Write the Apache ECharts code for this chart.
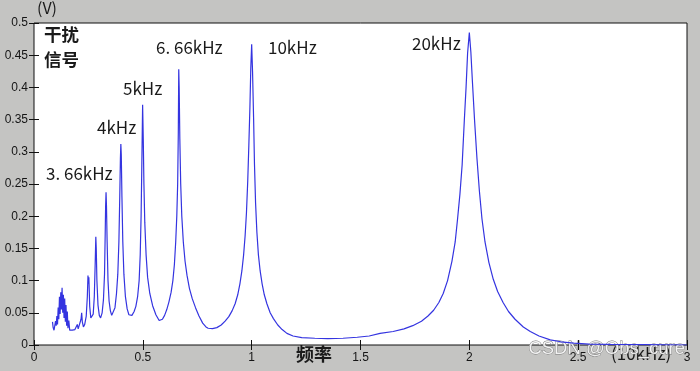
<!DOCTYPE html>
<html>
<head>
<meta charset="utf-8">
<script src="https://cdn.jsdelivr.net/npm/echarts@6/dist/echarts.min.js"></script>
<style>
html,body{margin:0;padding:0;background:#c4c4c2;}
#chart{width:700px;height:371px;}
</style>
</head>
<body>
<div id="chart"></div>
<script>
// frequency (x 10kHz)
const freq = [
0.085,0.088,0.092,0.096,0.099,0.102,0.105,0.108,0.111,0.114,0.117,0.120,0.123,0.126,0.129,0.132,0.135,0.138,0.141,0.144,
0.147,0.150,0.153,0.156,0.160,0.164,0.170,0.176,0.182,0.188,0.194,0.199,0.203,0.210,0.216,0.219,0.222,0.227,0.233,0.240,
0.245,0.248,0.250,0.252,0.256,0.261,
0.266,0.272,0.277,0.281,0.284,0.286,0.289,0.294,0.300,
0.306,0.313,0.319,0.324,0.327,0.329,0.331,0.333,0.336,0.340,0.345,0.351,
0.357,0.365,0.372,0.379,0.385,0.390,0.394,0.397,0.399,0.401,0.404,0.408,0.413,0.420,0.428,0.436,
0.440,0.450,0.460,0.468,0.476,0.483,0.488,0.492,0.495,0.499,0.502,0.505,0.509,0.515,0.522,0.532,0.545,0.560,
0.575,0.590,0.600,0.610,0.620,0.630,0.638,0.645,0.651,0.656,0.660,0.663,0.665,0.667,0.670,0.674,0.679,0.686,0.694,0.703,0.714,0.727,0.742,0.758,0.775,0.790,
0.800,0.820,0.840,0.860,0.878,0.895,0.910,0.924,0.936,0.946,0.955,0.963,0.970,0.976,0.982,0.987,0.992,0.996,1.000,
1.004,1.009,1.013,1.018,1.024,1.031,1.039,1.048,1.058,1.070,1.085,1.100,1.120,1.140,1.162,1.190,1.230,1.290,1.350,1.420,1.485,1.540,
1.590,1.650,1.700,1.740,1.780,1.810,1.836,1.860,1.880,1.900,1.920,1.935,1.946,1.957,1.967,1.977,1.985,1.992,2.000,
2.007,2.014,2.024,2.035,2.046,2.058,2.072,2.090,2.110,2.130,2.155,2.180,2.210,2.248,2.280,2.320,2.372,2.420,2.480,2.550,2.650,2.800,3.000
];
// amplitude (V)
const volt = [
0.036,0.027,0.023,0.026,0.037,0.030,0.045,0.032,0.058,0.040,0.075,0.048,0.082,0.055,0.089,0.050,0.078,0.042,0.072,0.036,
0.062,0.030,0.052,0.026,0.038,0.023,0.025,0.023,0.026,0.024,0.027,0.032,0.025,0.028,0.040,0.050,0.036,0.028,0.032,0.045,
0.075,0.108,0.095,0.105,0.060,0.042,
0.040,0.048,0.075,0.125,0.168,0.150,0.100,0.062,0.046,
0.042,0.050,0.070,0.110,0.170,0.215,0.237,0.215,0.160,0.100,0.068,0.053,
0.046,0.048,0.058,0.080,0.110,0.160,0.230,0.290,0.312,0.295,0.230,0.160,0.110,0.075,0.056,0.047,
0.044,0.046,0.052,0.060,0.075,0.100,0.140,0.200,0.270,0.373,0.320,0.250,0.190,0.140,0.105,0.080,0.061,0.047,
0.038,0.040,0.046,0.055,0.067,0.082,0.100,0.125,0.160,0.200,0.250,0.330,0.428,0.400,0.320,0.250,0.200,0.160,0.130,0.108,0.088,0.072,0.058,0.045,0.034,0.028,
0.026,0.0255,0.027,0.031,0.037,0.044,0.053,0.064,0.078,0.095,0.115,0.140,0.170,0.205,0.255,0.310,0.370,0.430,0.467,
0.425,0.350,0.280,0.220,0.175,0.140,0.115,0.095,0.078,0.064,0.050,0.041,0.031,0.024,0.018,0.014,0.0115,0.0105,0.010,0.0105,0.012,0.014,
0.018,0.021,0.025,0.030,0.037,0.045,0.054,0.066,0.080,0.100,0.130,0.160,0.196,0.235,0.280,0.349,0.400,0.453,0.485,
0.455,0.410,0.349,0.290,0.240,0.196,0.160,0.128,0.102,0.083,0.066,0.052,0.040,0.028,0.021,0.014,0.008,0.005,0.003,0.0015,0.001,0.0005,0.0
];
const xTickLabels = ['0','0.5','1','1.5','2','2.5','3'];
const yTickLabels = ['0','0.05','0.1','0.15','0.2','0.25','0.3','0.35','0.4','0.45','0.5'];
const peakLabels = ['3. 66kHz','4kHz','5kHz','6. 66kHz','10kHz','20kHz'];

const chart = echarts.init(document.getElementById('chart'), null, {renderer:'canvas'});
const pts = freq.map((f,i)=>[f, volt[i]]);
const tickFont = {color:'#151515', fontSize:12, fontFamily:'Liberation Sans, Arial, sans-serif'};
const annoFont = 'Noto Sans CJK SC';

function txt(x, y, s, size, weight){
  return {type:'text', left:x, top:y, style:{text:s, fill:'#1a1a1a', font: (weight||'normal')+' '+size+'px "'+annoFont+'"'}};
}

chart.setOption({
  backgroundColor:'#c4c4c2',
  animation:false,
  grid:{left:34, right:13, top:23, bottom:26, show:true, backgroundColor:'#ffffff', borderColor:'#111', borderWidth:1},
  xAxis:[{
    type:'value', min:0, max:3, interval:0.5,
    axisLine:{show:false},
    axisTick:{show:true, inside:true, length:5, lineStyle:{color:'#111'}},
    splitLine:{show:false},
    axisLabel:Object.assign({margin:7, formatter:(v)=>xTickLabels[Math.round(v/0.5)]}, tickFont)
  },{
    type:'value', position:'top', min:0, max:3, interval:0.5,
    axisLine:{show:false},
    axisTick:{show:true, inside:true, length:5, lineStyle:{color:'#111'}},
    splitLine:{show:false}, axisLabel:{show:false}
  }],
  yAxis:[{
    type:'value', min:0, max:0.5, interval:0.05,
    axisLine:{show:false},
    axisTick:{show:true, inside:true, length:5, lineStyle:{color:'#111'}},
    splitLine:{show:false},
    axisLabel:Object.assign({margin:6, formatter:(v)=>yTickLabels[Math.round(v/0.05)]}, tickFont)
  },{
    type:'value', position:'right', min:0, max:0.5, interval:0.05,
    axisLine:{show:false},
    axisTick:{show:true, inside:true, length:5, lineStyle:{color:'#111'}},
    splitLine:{show:false}, axisLabel:{show:false}
  }],
  series:[{
    type:'line', data:pts, showSymbol:false, smooth:false,
    lineStyle:{color:'#3434e0', width:1.2},
    clip:true
  }],
  graphic:[
    txt(37, 0, '(V)', 16),
    txt(44, 26, '干扰', 17.5, 'bold'),
    txt(44, 51, '信号', 17.5, 'bold'),
    txt(46, 165, peakLabels[0], 17),
    txt(97, 119, peakLabels[1], 17),
    txt(123, 80, peakLabels[2], 17),
    txt(156, 39, peakLabels[3], 17),
    txt(268, 39, peakLabels[4], 17),
    txt(412, 35, peakLabels[5], 17),
    txt(296, 345, '频率', 18, 'bold'),
    txt(611, 345, '(10kHz)', 17),
    {type:'text', left:528, top:339, style:{text:'CSDN @Obs_cure', fill:'rgba(255,255,255,0.85)', stroke:'#777', lineWidth:0.8, font:'18.5px "Liberation Sans", Arial, sans-serif'}}
  ]
});
</script>
</body>
</html>
